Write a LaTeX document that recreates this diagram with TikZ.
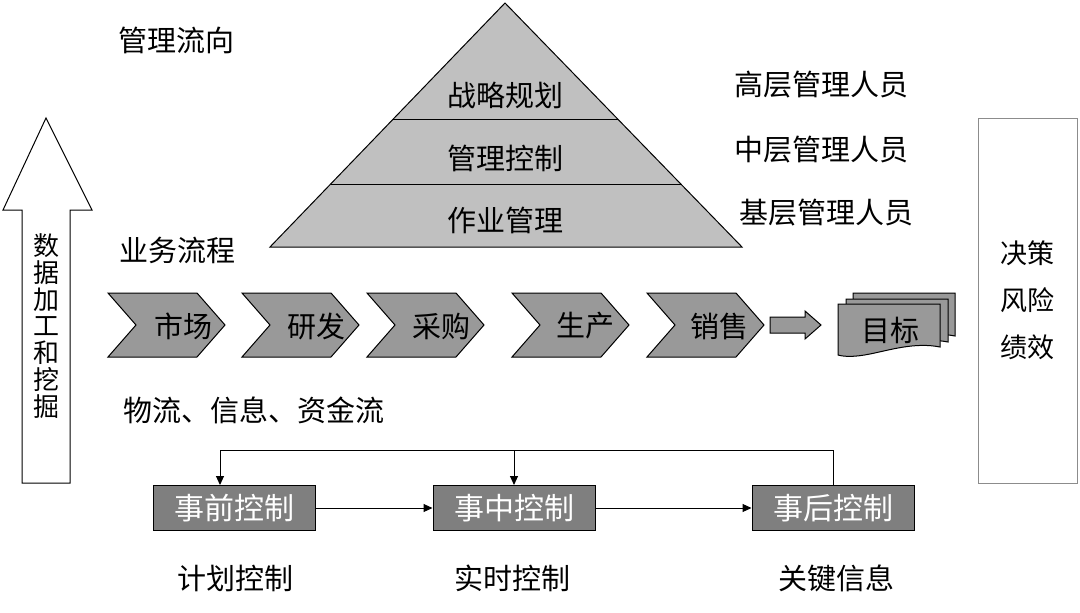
\documentclass[tikz,border=0pt]{standalone}
\usepackage{fontspec}
\setmainfont{Noto Sans CJK SC}
\usetikzlibrary{arrows.meta}

\definecolor{pyrgray}{HTML}{C0C0C0}
\definecolor{chevgray}{HTML}{999999}
\definecolor{boxgray}{HTML}{7F7F7F}
\definecolor{framegray}{HTML}{8C8C8C}

\tikzset{
	txt/.style={font=\fontsize{29pt}{34pt}\selectfont, inner sep=0pt},
	chev/.style={draw, fill=chevgray},
	ctrlbox/.style={draw, fill=boxgray, text=white, minimum width=162pt,
		minimum height=45pt, inner sep=0pt, font=\fontsize{30pt}{34pt}\selectfont},
	link/.style={-{Triangle[length=9pt,width=8pt]}},
}

\begin{document}
\begin{tikzpicture}[x=1pt,y=-1pt,line width=1pt]
	\useasboundingbox (0,0) rectangle (1080,613);

	% Piramide
	\coordinate (P) at (505,3);
	\coordinate (Q) at (270,247);
	\coordinate (R) at (742,247);

	\draw[fill=pyrgray] (P) -- (R) -- (Q) -- cycle;
	\draw (393,119) -- (618,119);
	\draw (331,184) -- (681,184);

	\node[txt] (strat) at (505,95) {战略规划};
	\node[txt] (mgmt) at (505,158) {管理控制};
	\node[txt] (oper) at (505,220) {作业管理};

	\node[txt] (high) at (821,85) {高层管理人员};
	\node[txt] (middle) at (821,150) {中层管理人员};
	\node[txt] (low) at (826,213) {基层管理人员};

	\node[txt] (mflow) at (176,40) {管理流向};
	\node[txt] (bflow) at (177,250) {业务流程};
	\node[txt] (flows) at (254,410) {物流、信息、资金流};

	% Fletxa gran
	\draw (46,118) -- (92,210) -- (70,210) -- (70,483) -- (22,483) -- (22,210) -- (3,210) -- cycle;
	\node[txt, align=center, font=\fontsize{26pt}{26.8pt}\selectfont] (data) at (46,326)
		{数\\据\\加\\工\\和\\挖\\掘};

	% Caixa dreta
	\node[draw=framegray, minimum width=99pt, minimum height=365pt, align=center,
		font=\fontsize{27pt}{47pt}\selectfont] (goal) at (1027.5,300.5) {决策\\风险\\绩效};

	% Cadena de valor
	\draw[chev] (108,293) -- ++(89,0) -- ++(28,32) -- ++(-28,32) -- ++(-89,0) -- ++(28,-32) -- cycle;
	\draw[chev] (242,293) -- ++(89,0) -- ++(28,32) -- ++(-28,32) -- ++(-89,0) -- ++(28,-32) -- cycle;
	\draw[chev] (367,293) -- ++(89,0) -- ++(28,32) -- ++(-28,32) -- ++(-89,0) -- ++(28,-32) -- cycle;
	\draw[chev] (512,293) -- ++(89,0) -- ++(28,32) -- ++(-28,32) -- ++(-89,0) -- ++(28,-32) -- cycle;
	\draw[chev] (647,293) -- ++(89,0) -- ++(28,32) -- ++(-28,32) -- ++(-89,0) -- ++(28,-32) -- cycle;

	\node[txt] (mkt) at (183,326) {市场};
	\node[txt] (rnd) at (316,326) {研发};
	\node[txt] (buy) at (441,326) {采购};
	\node[txt] (prod) at (585,326) {生产};
	\node[txt] (sale) at (719,326) {销售};

	\draw[chev] (770,317) -- (805,317) -- (805,311) -- (821,325) -- (805,339) -- (805,333) -- (770,333) -- cycle;

	% Documents
	\draw[chev, shift={(15,-11)}] (838,304) -- (940,304) -- (940,347)
		.. controls (915,342) and (890,350) .. (870,354) .. controls (855,357) and (845,357) .. (838,355) -- cycle;
	\draw[chev, shift={(8,-5)}] (838,304) -- (940,304) -- (940,347)
		.. controls (915,342) and (890,350) .. (870,354) .. controls (855,357) and (845,357) .. (838,355) -- cycle;
	\draw[chev] (838,304) -- (940,304) -- (940,347)
		.. controls (915,342) and (890,350) .. (870,354) .. controls (855,357) and (845,357) .. (838,355) -- cycle;
	\node[txt] (target) at (890,330) {目标};

	% Control
	\node[ctrlbox] (pre) at (234,508) {事前控制};
	\node[ctrlbox] (mid) at (514,508) {事中控制};
	\node[ctrlbox] (post) at (833,508) {事后控制};

	\draw[link] (pre) -- (mid);
	\draw[link] (mid) -- (post);

	\coordinate (top) at (833,450);
	\draw (post.north) -- (top);
	\draw[link] (top) -| ([xshift=-14pt]pre.north);
	\draw[link] (mid.north |- top) -- (mid.north);

	\node[txt] (plan) at (235,578) {计划控制};
	\node[txt] (real) at (512,578) {实时控制};
	\node[txt] (key) at (836,578) {关键信息};

\end{tikzpicture}
\end{document}
